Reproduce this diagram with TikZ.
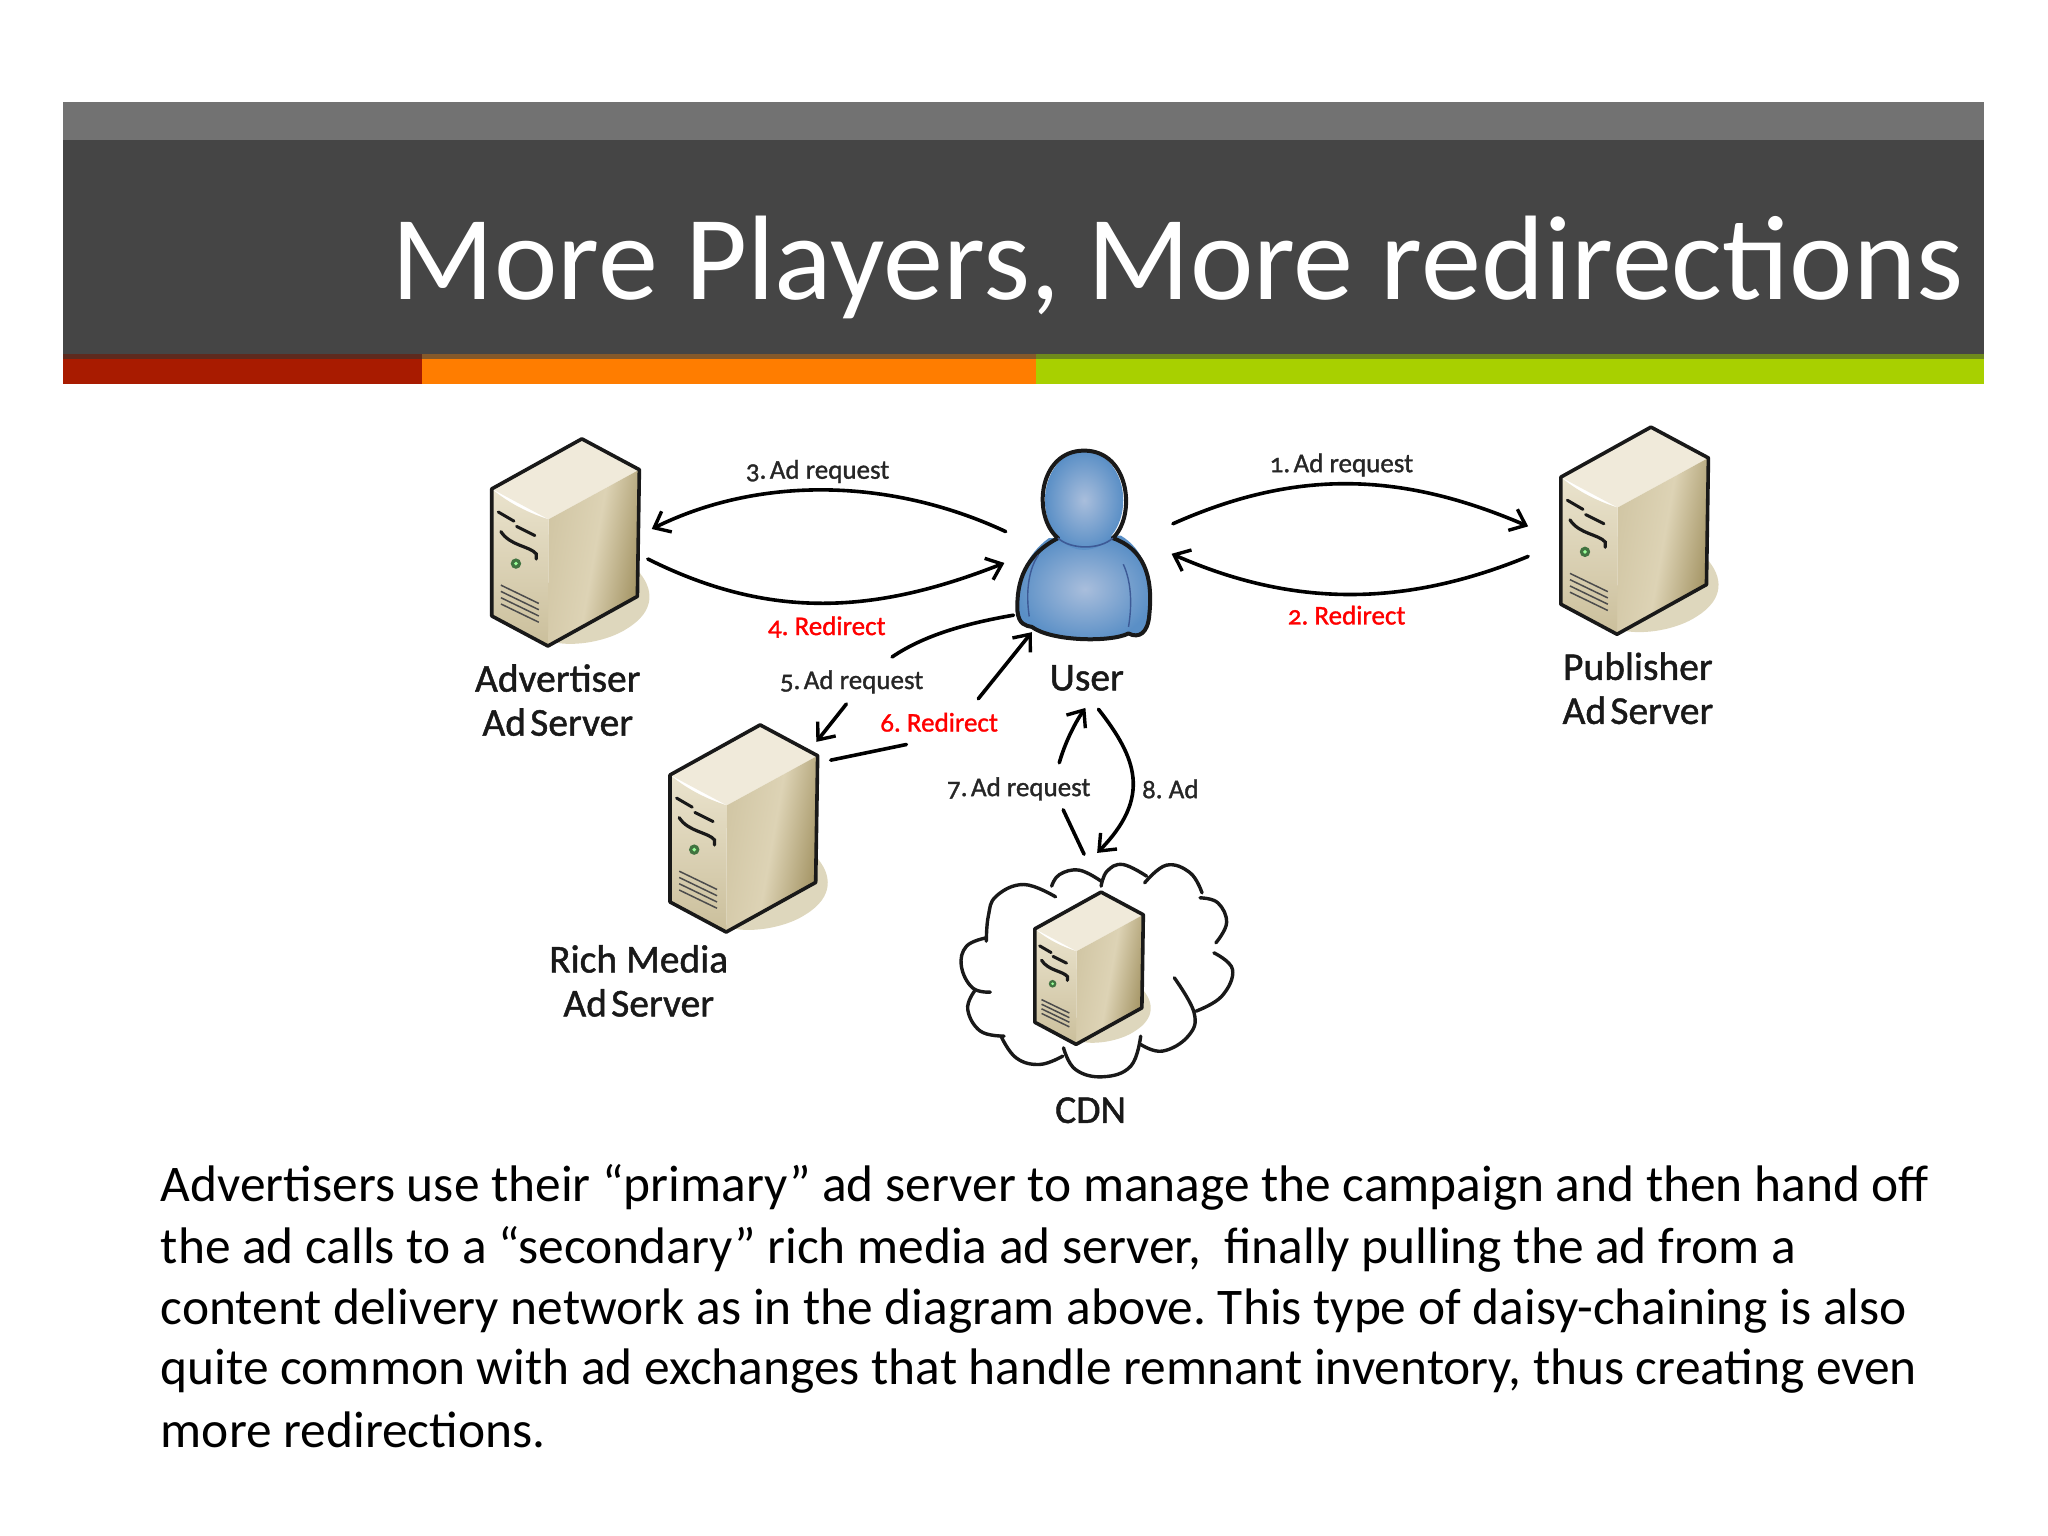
\documentclass[tikz,border=0pt]{standalone}
\usepackage{fontspec}
\setmainfont{Carlito}
\newfontfamily\lblfont[Numbers=OldStyle,FakeBold=1.2]{Carlito}
\usetikzlibrary{arrows.meta,shadings}
\frenchspacing
\definecolor{hdrtop}{HTML}{727272}
\definecolor{hdrmain}{HTML}{454545}
\definecolor{barred}{HTML}{A81B00}
\definecolor{barorange}{HTML}{FF7D00}
\definecolor{bargreen}{HTML}{A8D000}
\definecolor{stripred}{HTML}{5E2A1E}
\definecolor{striporange}{HTML}{85592A}
\definecolor{stripgreen}{HTML}{6E8A1C}
\definecolor{srvtop}{HTML}{F0EADA}
\definecolor{srvfront}{HTML}{DDD3B5}
\definecolor{srvsideL}{HTML}{EAE3CD}
\definecolor{srvsideR}{HTML}{A0905F}
\definecolor{srvshadow}{HTML}{DED7BD}
\definecolor{usrout}{HTML}{5A8FC6}
\definecolor{usrin}{HTML}{A9BEDC}
\definecolor{usrline}{HTML}{3D5A96}
\tikzset{
  x=1.30612pt,y=-1.30612pt,
  conn/.style={line width=3.6pt,black,line cap=round},
  arr/.style={conn,-{Straight Barb[length=14pt,width=23pt,line width=3.4pt]}},
  srvlabel/.style={font=\lblfont\fontsize{39.5}{44}\selectfont,align=center,text=black!90,inner sep=0pt},
  small/.style={font=\lblfont\fontsize{27}{30}\selectfont,inner sep=0pt,text=black!85},
  smallred/.style={small,text=red},
  bodyline/.style={font=\fontsize{51.4}{57}\selectfont,anchor=base west,inner sep=0pt,text=black},
  pics/server/.style={code={
    \fill[srvshadow] (42,100) .. controls (56,115) and (56,132) .. (35,145) .. controls (20,155) and (-5,159) .. (-20,156) -- cycle;
    \fill[srvtop] (0,0) -- (44,23.6) -- (-25.5,61.6) -- (-69,38.3) -- cycle;
    \shade[left color=srvfront!80!srvsideR,right color=srvsideR,middle color=srvfront,shading angle=80]
      (44,23.6) -- (42.5,120.6) -- (-26,158.6) -- (-25.5,61.6) -- cycle;
    \shade[top color=srvsideL,bottom color=srvfront!70!srvsideR]
      (-69,38.3) .. controls (-55,50) and (-40,57) .. (-25.5,61.6) -- (-26,158.6) -- (-69,135.6) -- cycle;
    \draw[line width=3.6pt,line join=round,black!90]
      (0,0) -- (44,23.6) -- (42.5,120.6) -- (-26,158.6) -- (-69,135.6) -- (-69,38.3) -- cycle;
    \draw[line width=3pt,black!90,line cap=round]
      (-64,56) -- (-52,63) (-50,67) -- (-36,74);
    \draw[line width=3.2pt,black!90,line cap=round]
      (-62,71) .. controls (-55,82) and (-40,82) .. (-35,88) -- (-35,92);
    \fill[black!60!green!50!gray] (-50.5,95.5) circle (4);
    \fill[white!60!green] (-50.5,95.5) circle (1.5);
    \foreach \dy in {0,4.8,9.6,14.4}
      \draw[line width=1.5pt,black!70] (-62,\dy+112) -- (-33,\dy+126);
  }},
}
\begin{document}
\begin{tikzpicture}
\useasboundingbox (0,0) rectangle (1568,1176);
% header
\fill[hdrtop] (48,78) rectangle (1519,108);
\fill[hdrmain] (48,107) rectangle (1519,272);
\fill[barred] (48,272) rectangle (323,294);
\fill[barorange] (323,272) rectangle (793,294);
\fill[bargreen] (793,272) rectangle (1519,294);
\fill[stripred] (48,271) rectangle (323,275);
\fill[striporange] (323,271) rectangle (793,275);
\fill[stripgreen] (793,271) rectangle (1519,275);
\node[font=\fontsize{120.2}{130}\selectfont,text=white,anchor=base east,inner sep=0pt] (title) at (1503,229.5) {More Players, More redirections};
% servers
\pic (adv) at (445.5,336) {server};
\pic (pub) at (1264,327) {server};
\pic (rich) at (582,555) {server};
% cloud
\begin{scope}[shift={(490,505)},x=0.3958pt,y=-0.3332pt,line width=3.4pt,black!90,line cap=round]
\draw plot[smooth,tension=0.7] coordinates {(1050,712) (970,675) (900,710) (880,770) (875,845)};
\draw plot[smooth,tension=0.7] coordinates {(875,835) (825,860) (812,920) (840,985) (885,998)};
\draw plot[smooth,tension=0.7] coordinates {(845,995) (828,1050) (860,1115) (920,1130)};
\draw plot[smooth,tension=0.7] coordinates {(912,1130) (950,1195) (1010,1215) (1068,1190)};
\draw plot[smooth,tension=0.7] coordinates {(1070,1165) (1100,1230) (1170,1252) (1240,1220) (1265,1130)};
\draw plot[smooth,tension=0.7] coordinates {(1265,1155) (1320,1175) (1385,1130) (1400,1060) (1350,955)};
\draw plot[smooth,tension=0.7] coordinates {(1405,1055) (1470,1010) (1497,930) (1450,880)};
\draw plot[smooth,tension=0.7] coordinates {(1455,850) (1482,790) (1460,730) (1415,715)};
\draw plot[smooth,tension=0.7] coordinates {(1420,700) (1390,640) (1330,617) (1275,670)};
\draw plot[smooth,tension=0.7] coordinates {(1280,650) (1220,615) (1180,635) (1165,680)};
\draw plot[smooth,tension=0.7] coordinates {(1165,665) (1110,632) (1060,645) (1040,680)};
\end{scope}
\pic[scale=0.735] (cdnsrv) at (843,683) {server};
% user
\shade[inner color=usrin,outer color=usrout]
  (803,412) .. controls (785,425) and (778,445) .. (779,468)
  .. controls (780,478) and (785,479) .. (790,480)
  .. controls (805,491) and (850,492) .. (864,485)
  .. controls (872,489) and (879,485) .. (880,470)
  .. controls (883,440) and (875,420) .. (858,410) -- cycle;
\shade[inner color=usrin,outer color=usrout]
  (830,383) ellipse [x radius=30,y radius=38];
\draw[line width=4pt,black!90,line join=round,line cap=round]
  (810,412) .. controls (790,395) and (795,345) .. (830,345)
  .. controls (865,345) and (870,395) .. (852,412)
  .. controls (875,420) and (883,440) .. (880,470)
  .. controls (879,485) and (872,489) .. (864,485)
  .. controls (850,492) and (805,491) .. (790,480)
  .. controls (785,479) and (780,478) .. (779,468)
  .. controls (778,445) and (785,425) .. (810,412);
\draw[line width=1.6pt,usrline] (810,412) .. controls (820,421) and (842,421) .. (852,412);
\draw[line width=1.4pt,usrline] (788,472) .. controls (785,452) and (788,435) .. (795,425);
\draw[line width=1.4pt,usrline] (864,480) .. controls (867,462) and (866,445) .. (860,432);
% labels
\node[srvlabel] (lAdv) at (427,536) {Advertiser\\Ad\hspace{-0.12em} Server};
\node[srvlabel] (lPub) at (1254,527) {Publisher\\Ad\hspace{-0.12em} Server};
\node[srvlabel] (lRich) at (489,751) {Rich Media\\Ad\hspace{-0.12em} Server};
\node[srvlabel] (lUser) at (832,519) {User};
\node[srvlabel] (lCdn) at (835,850) {CDN};
\node[small] (t3) at (626,361) {3.\hspace{-0.1em} Ad request};
\node[small] (t1) at (1027,356) {1.\hspace{-0.1em} Ad request};
\node[smallred] (t4) at (633,480) {4. Redirect};
\node[smallred] (t2) at (1031,471) {2. Redirect};
\node[small] (t5) at (652,522) {5.\hspace{-0.1em} Ad request};
\node[smallred] (t6) at (719,553) {6. Redirect};
\node[small] (t7) at (780,604) {7.\hspace{-0.1em} Ad request};
\node[small] (t8) at (896,604) {8. Ad};
% connector ends
\coordinate (a3s) at (770,407); \coordinate (a3e) at (499,405);
\coordinate (a4s) at (496,428); \coordinate (a4e) at (769,431);
\coordinate (a1s) at (898,401); \coordinate (a1e) at (1170,403);
\coordinate (a2s) at (1170,426); \coordinate (a2e) at (897,424);
\coordinate (a5s) at (776,471); \coordinate (a5m) at (683,503);
\coordinate (a5n) at (648,539); \coordinate (a5e) at (625,568);
\coordinate (a6s) at (636,582); \coordinate (a6m) at (694,570);
\coordinate (a6n) at (749,535); \coordinate (a6e) at (790,484);
\coordinate (a7s) at (830,654); \coordinate (a7m) at (814,620);
\coordinate (a7n) at (811,584); \coordinate (a7e) at (831,542);
\coordinate (a8s) at (841,543); \coordinate (a8e) at (840,653);
% connectors
\draw[arr] (a3s) .. controls (680,365) and (580,365) .. (a3e);
\draw[arr] (a4s) .. controls (590,475) and (670,470) .. (a4e);
\draw[arr] (a1s) .. controls (990,360) and (1070,360) .. (a1e);
\draw[arr] (a2s) .. controls (1075,465) and (990,465) .. (a2e);
\draw[conn] (a5s) .. controls (735,478) and (705,488) .. (a5m);
\draw[arr] (a5n) -- (a5e);
\draw[conn] (a6s) -- (a6m);
\draw[arr] (a6n) -- (a6e);
\draw[conn] (a7s) -- (a7m);
\draw[arr] (a7n) .. controls (815,570) and (822,555) .. (a7e);
\draw[arr] (a8s) .. controls (870,580) and (882,610) .. (a8e);
% body
\node[bodyline] (b1) at (123,920) {Advertisers use their “primary” ad server to manage the campaign and then hand off};
\node[bodyline] (b2) at (123,967) {the ad calls to a “secondary” rich media ad server,\ \ finally pulling the ad from a};
\node[bodyline] (b3) at (123,1014) {content delivery network as in the diagram above. This type of daisy-chaining is also};
\node[bodyline] (b4) at (123,1060) {quite common with ad exchanges that handle remnant inventory, thus creating even};
\node[bodyline] (b5) at (123,1108) {more redirections.};
\end{tikzpicture}
\end{document}
